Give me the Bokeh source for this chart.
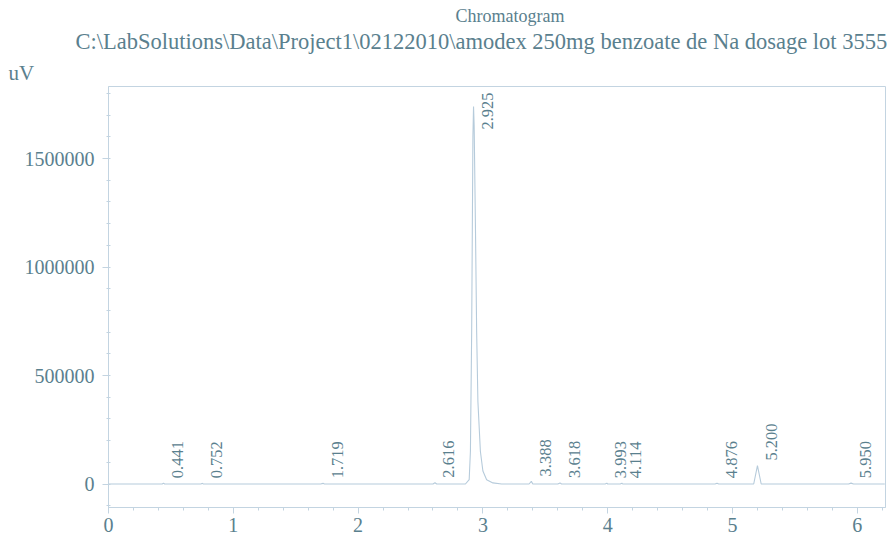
from bokeh.plotting import figure
from bokeh.models import Range1d, FixedTicker, Title, ColumnDataSource, NumeralTickFormatter
from bokeh.core.properties import value
from bokeh.embed import file_html
from bokeh.resources import INLINE

# Detector trace (time in min, signal in uV)
trace_time = [0.0, 0.43, 0.441, 0.45, 0.74, 0.752, 0.76, 1.70, 1.719, 1.73,
              2.60, 2.616, 2.63, 2.86, 2.89, 2.90, 2.91, 2.92, 2.925, 2.93,
              2.94, 2.95, 2.96, 2.98, 3.00, 3.03, 3.08, 3.15, 3.37, 3.388,
              3.40, 3.60, 3.618, 3.63, 3.98, 3.993, 4.00, 4.10, 4.114, 4.12,
              4.86, 4.876, 4.89, 5.17, 5.200, 5.23, 5.93, 5.950, 5.97, 6.22]
trace_uv = [0, 0, 4000, 0, 0, 3000, 0, 0, 3000, 0,
            0, 6000, 0, 0, 20000, 150000, 700000, 1600000, 1740000, 1650000,
            1200000, 700000, 380000, 150000, 60000, 20000, 5000, 0, 0, 12000,
            0, 0, 5000, 0, 0, 4000, 0, 0, 4000, 0,
            0, 4000, 0, 0, 85000, 0, 0, 4000, 0, 0]

# Integrated peaks: retention time and apex height
peak_times = [0.441, 0.752, 1.719, 2.616, 2.925, 3.388, 3.618, 3.993, 4.114, 4.876, 5.200, 5.950]
peak_heights = [4000, 3000, 3000, 6000, 1740000, 12000, 5000, 4000, 4000, 4000, 85000, 4000]

x_ticks = [0, 1, 2, 3, 4, 5, 6]
y_ticks = [0, 500000, 1000000, 1500000]

TEXT = "#5a808e"
LINE = "#b6cbdb"
AXIS = "#c3d4e1"
SERIF = "Liberation Serif"

X_END = 6.226
Y_START, Y_END = -108300, 1832000

p = figure(width=890, height=542, output_backend="svg", toolbar_location=None,
           x_range=Range1d(0, X_END), y_range=Range1d(Y_START, Y_END),
           min_border_left=108, min_border_right=5, min_border_top=86,
           min_border_bottom=35)
p.grid.visible = False
p.outline_line_color = AXIS
p.background_fill_color = "white"
p.border_fill_color = "white"

p.line(trace_time, trace_uv, line_color=LINE, line_width=1.1)

# Retention-time labels, rotated, sitting just above each apex
near_top = [h > 0.8 * Y_END for h in peak_heights]
low = ColumnDataSource(dict(
    x=[t for t, n in zip(peak_times, near_top) if not n],
    y=[h for h, n in zip(peak_heights, near_top) if not n],
    s=[f"{t:.3f}" for t, n in zip(peak_times, near_top) if not n]))
high = ColumnDataSource(dict(
    x=[t for t, n in zip(peak_times, near_top) if n],
    y=[Y_END for n in near_top if n],
    s=[f"{t:.3f}" for t, n in zip(peak_times, near_top) if n]))
common = dict(text="s", angle=1.5708, text_color=TEXT, text_font=value(SERIF),
              text_font_size="16.5px", text_baseline="middle", x_offset=14)
p.text(x="x", y="y", source=low, text_align="left", y_offset=-5, **common)
p.text(x="x", y="y", source=high, text_align="right", y_offset=6, **common)

# Axes
for ax in (p.xaxis[0], p.yaxis[0]):
    ax.axis_line_color = AXIS
    ax.major_tick_line_color = AXIS
    ax.minor_tick_line_color = AXIS
    ax.major_label_text_color = TEXT
    ax.major_label_text_font = SERIF
    ax.major_label_text_font_size = "20px"
    ax.major_tick_in = 0
    ax.major_tick_out = 6

p.xaxis.ticker = FixedTicker(ticks=x_ticks, minor_ticks=[i * 0.2 for i in range(32)])
p.xaxis.major_label_standoff = 4
p.xaxis.minor_tick_in = 0
p.xaxis.minor_tick_out = 3

p.yaxis.ticker = FixedTicker(ticks=y_ticks, minor_ticks=[i * 100000 for i in range(-1, 19)])
p.yaxis.formatter = NumeralTickFormatter(format="0")
p.yaxis.major_label_standoff = 8
p.yaxis.minor_tick_in = 2
p.yaxis.minor_tick_out = 2

# Header: unit, data file path, report title (stacked upward from the frame)
header = [
    ("uV", -100, 4, "21px"),
    ("C:\\LabSolutions\\Data\\Project1\\02122010\\amodex 250mg benzoate de Na dosage lot 3555", -33, 6, "22.5px"),
    ("Chromatogram", 347, -4, "18px"),
]
for txt, off, gap, size in header:
    p.add_layout(Title(text=txt, align="left", offset=off, standoff=gap,
                       text_color=TEXT, text_font=SERIF, text_font_size=size,
                       text_font_style="normal"), "above")

open("out.html", "w").write(file_html(p, INLINE))
